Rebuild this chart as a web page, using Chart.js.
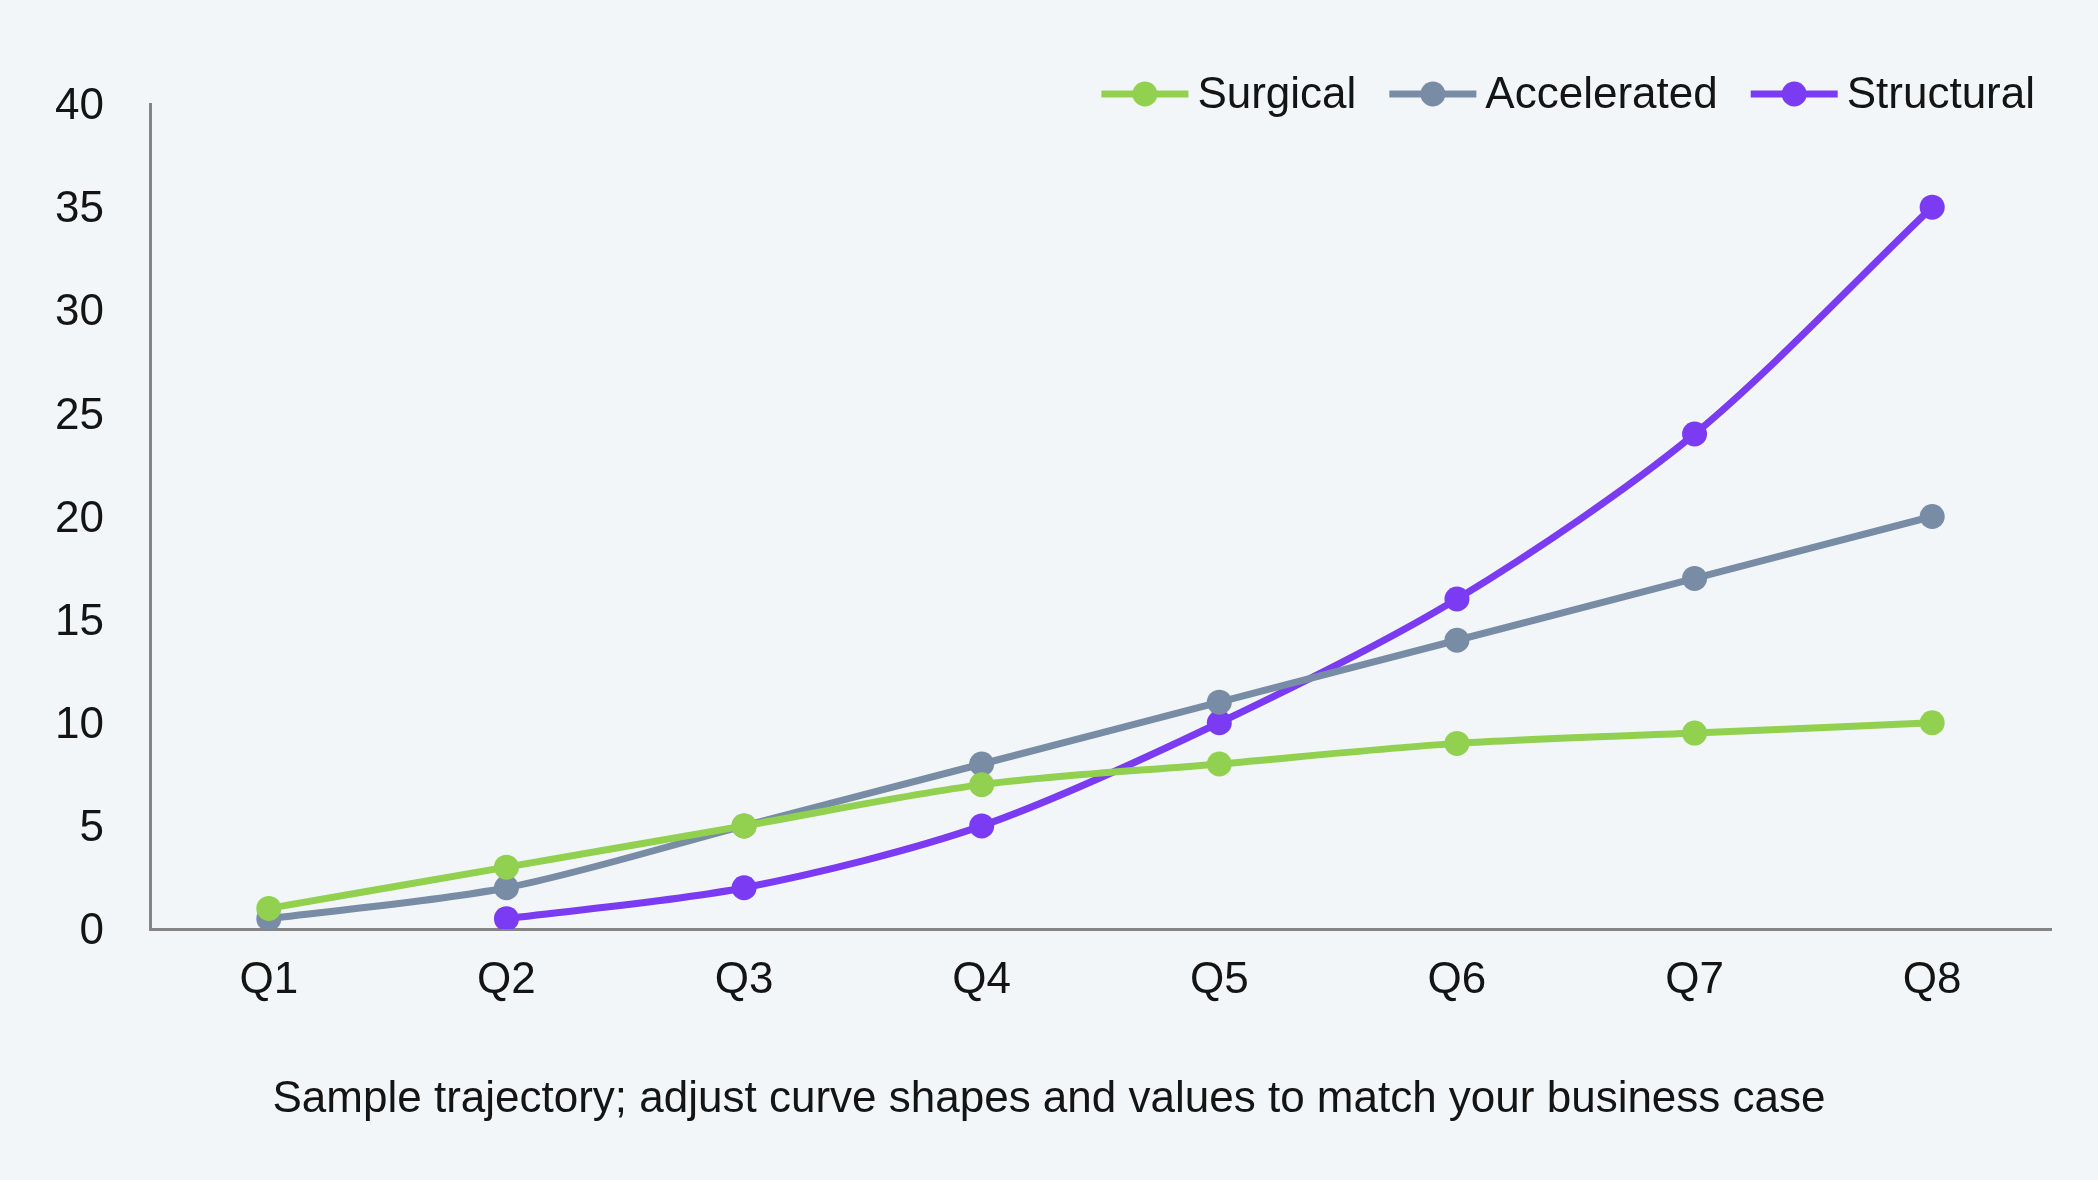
<!DOCTYPE html>
<html>
<head>
<meta charset="utf-8">
<script src="https://cdn.jsdelivr.net/npm/chart.js@4"></script>
<style>
  html, body { margin: 0; padding: 0; background: #f2f6f9; }
  #wrap { width: 2098px; height: 1180px; }
</style>
</head>
<body>
<div id="wrap"><canvas id="trajectoryChart" width="2098" height="1180"></canvas></div>
<script>
const quarters = ["Q1", "Q2", "Q3", "Q4", "Q5", "Q6", "Q7", "Q8"];
const surgical = [1, 3, 5, 7, 8, 9, 9.5, 10];
const accelerated = [0.5, 2, 5, 8, 11, 14, 17, 20];
const structural = [null, 0.5, 2, 5, 10, 16, 24, 35];
const yTicks = [0, 5, 10, 15, 20, 25, 30, 35, 40];
const caption = "Sample trajectory; adjust curve shapes and values to match your business case";

const GREEN = "#92d050";
const GREY = "#788ca6";
const PURPLE = "#7a3bf2";
const FONT = "'Liberation Sans', Arial, Helvetica, sans-serif";
const TEXT = "#141414";

function series(label, data, color) {
  return {
    label,
    data,
    borderColor: color,
    backgroundColor: color,
    pointBackgroundColor: color,
    pointBorderWidth: 0,
    pointRadius: 12.5,
    pointHoverRadius: 12.5,
    borderWidth: 7,
    tension: 0.3
  };
}

// legend sits above the plot and overlaps its top edge, so draw it by hand
const lineLegend = {
  id: "lineLegend",
  afterDraw(chart) {
    const ctx = chart.ctx;
    const y = 96;
    const lineLen = 87, gapText = 9, gapItem = 33;
    ctx.save();
    ctx.font = "44px " + FONT;
    ctx.textBaseline = "middle";
    ctx.textAlign = "left";
    let x = 2035;
    const items = chart.data.datasets.slice().reverse();
    items.forEach(ds => {
      const w = ctx.measureText(ds.label).width;
      const textX = x - w;
      const lineEnd = textX - gapText;
      const lineStart = lineEnd - lineLen;
      ctx.fillStyle = TEXT;
      ctx.fillText(ds.label, textX, y);
      ctx.strokeStyle = ds.borderColor;
      ctx.lineWidth = 7;
      ctx.beginPath();
      ctx.moveTo(lineStart, y - 2);
      ctx.lineTo(lineEnd, y - 2);
      ctx.stroke();
      ctx.fillStyle = ds.borderColor;
      ctx.beginPath();
      ctx.arc((lineStart + lineEnd) / 2, y - 2, 12.5, 0, Math.PI * 2);
      ctx.fill();
      x = lineStart - gapItem;
    });
    ctx.restore();
  }
};

Chart.defaults.font.family = FONT;
Chart.defaults.color = TEXT;

new Chart(document.getElementById("trajectoryChart"), {
  type: "line",
  data: {
    labels: quarters,
    datasets: [
      series("Surgical", surgical, GREEN),
      series("Accelerated", accelerated, GREY),
      series("Structural", structural, PURPLE)
    ]
  },
  options: {
    responsive: false,
    animation: false,
    devicePixelRatio: 1,
    layout: { padding: { top: 104, left: 47, right: 47, bottom: 53.6 } },
    plugins: {
      tooltip: { enabled: false },
      legend: { display: false },
      title: {
        display: true,
        position: "bottom",
        text: caption,
        color: TEXT,
        font: { size: 44, weight: "normal", lineHeight: 1.2 },
        padding: 0
      }
    },
    scales: {
      x: {
        offset: true,
        grid: { display: false, drawTicks: false },
        border: { display: true, color: "#858585", width: 3 },
        ticks: { font: { size: 44 }, padding: 25, color: TEXT },
        afterFit(scale) { scale.height = 144.6; }
      },
      y: {
        min: 0,
        max: 40,
        grid: { display: false, drawTicks: false },
        border: { display: true, color: "#858585", width: 3 },
        ticks: { font: { size: 44 }, padding: 46, labelOffset: 3, color: TEXT, stepSize: 5 },
        afterBuildTicks(scale) { scale.ticks = yTicks.map(v => ({ value: v })); },
        afterFit(scale) { scale.width = 103; }
      }
    }
  },
  plugins: [lineLegend]
});
</script>
</body>
</html>
